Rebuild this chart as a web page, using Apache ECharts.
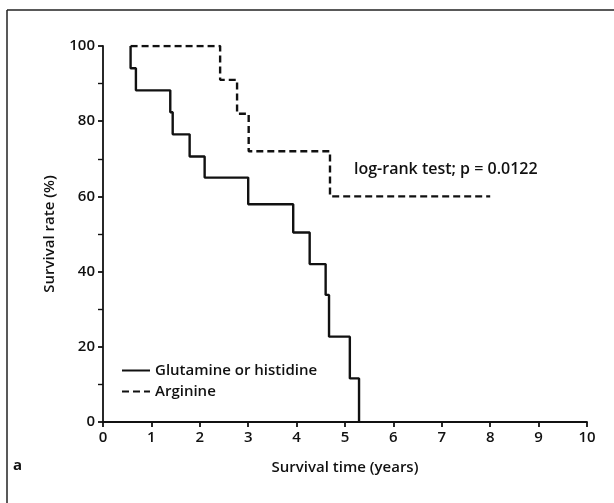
<!DOCTYPE html>
<html><head><meta charset="utf-8">
<script src="https://cdn.jsdelivr.net/npm/echarts@6/dist/echarts.min.js"></script>
<style>html,body{margin:0;padding:0;background:#fff}#c{width:614px;height:503px}</style>
</head><body><div id="c"></div>
<script>
// Kaplan–Meier step points: [time (years), survival (%)]
var glutamineTimes = [0.57, 0.57, 0.68, 1.39, 1.44, 1.79, 2.10, 3.00, 3.93, 4.27, 4.60, 4.67, 5.10, 5.29];
var glutamineSurv  = [100, 94.1, 88.2, 82.4, 76.5, 70.6, 65.0, 57.9, 50.4, 42.0, 33.8, 22.7, 11.6, 0];
var arginineTimes  = [0.57, 2.42, 2.77, 3.01, 4.69, 8.00];
var arginineSurv   = [100, 91.0, 82.0, 72.0, 60.0, 60.0];
var xTicks = [0,1,2,3,4,5,6,7,8,9,10];
var yTicks = [0,20,40,60,80,100];
var seriesNames = ['Glutamine or histidine', 'Arginine'];
var annotation = 'log-rank test; p = 0.0122';

function pairs(t, s){ return t.map(function(v,i){ return [v, s[i]]; }); }
var FONT = '"Open Sans", "Noto Sans", sans-serif';
var chart = echarts.init(document.getElementById('c'));
chart.setOption({
  animation: false,
  backgroundColor: '#ffffff',
  grid: {left: 103, right: 27, top: 46, bottom: 81},
  xAxis: {
    type: 'value', min: 0, max: 10, interval: 1,
    name: 'Survival time (years)', nameLocation: 'middle', nameGap: 38,
    nameTextStyle: {fontFamily: FONT, fontSize: 15, fontWeight: 600, color: '#111'},
    axisLine: {onZero: false, lineStyle: {color: '#111', width: 1.8}},
    axisTick: {inside: false, length: 5, lineStyle: {color: '#111', width: 1.8}},
    axisLabel: {fontFamily: FONT, fontSize: 15, fontWeight: 600, color: '#111', margin: 8,
      formatter: function(v){ return xTicks.indexOf(v) >= 0 ? String(v) : ''; }},
    splitLine: {show: false}
  },
  yAxis: {
    type: 'value', min: 0, max: 100, interval: 20,
    name: 'Survival rate (%)', nameLocation: 'middle', nameGap: 46,
    nameTextStyle: {fontFamily: FONT, fontSize: 15, fontWeight: 600, color: '#111'},
    axisLine: {show: true, lineStyle: {color: '#111', width: 1.8}},
    axisTick: {show: true, length: 5, lineStyle: {color: '#111', width: 1.8}},
    minorTick: {show: true, splitNumber: 2, length: 5, lineStyle: {color: '#111', width: 1.4}},
    axisLabel: {fontFamily: FONT, fontSize: 15, fontWeight: 600, color: '#111', margin: 8,
      formatter: function(v){ return yTicks.indexOf(v) >= 0 ? String(v) : ''; }},
    splitLine: {show: false}
  },
  legend: {
    orient: 'vertical', left: 116, top: 358, itemGap: 6,
    itemWidth: 28, itemHeight: 12,
    itemStyle: {opacity: 0},
    textStyle: {fontFamily: FONT, fontSize: 15, fontWeight: 600, color: '#111'},
    data: seriesNames
  },
  series: [
    {name: seriesNames[0], type: 'line', step: 'end', symbol: 'none',
     data: pairs(glutamineTimes, glutamineSurv),
     lineStyle: {color: '#111', width: 2.4, type: 'solid'}, itemStyle: {color: '#111'}},
    {name: seriesNames[1], type: 'line', step: 'end', symbol: 'none',
     data: pairs(arginineTimes, arginineSurv),
     lineStyle: {color: '#111', width: 2.4, type: [7, 4]}, itemStyle: {color: '#111'}}
  ],
  graphic: [
    {type: 'text', left: 354, top: 161, style: {text: annotation, font: '600 16px ' + FONT, fill: '#111'}},
    {type: 'text', left: 13, top: 458, style: {text: 'a', font: 'bold 15px ' + FONT, fill: '#111'}},
    {type: 'line', shape: {x1: 7, y1: 10, x2: 614, y2: 10}, style: {stroke: '#222', lineWidth: 1.5}},
    {type: 'line', shape: {x1: 7, y1: 10, x2: 7, y2: 503}, style: {stroke: '#222', lineWidth: 1.5}}
  ]
});
</script></body></html>
